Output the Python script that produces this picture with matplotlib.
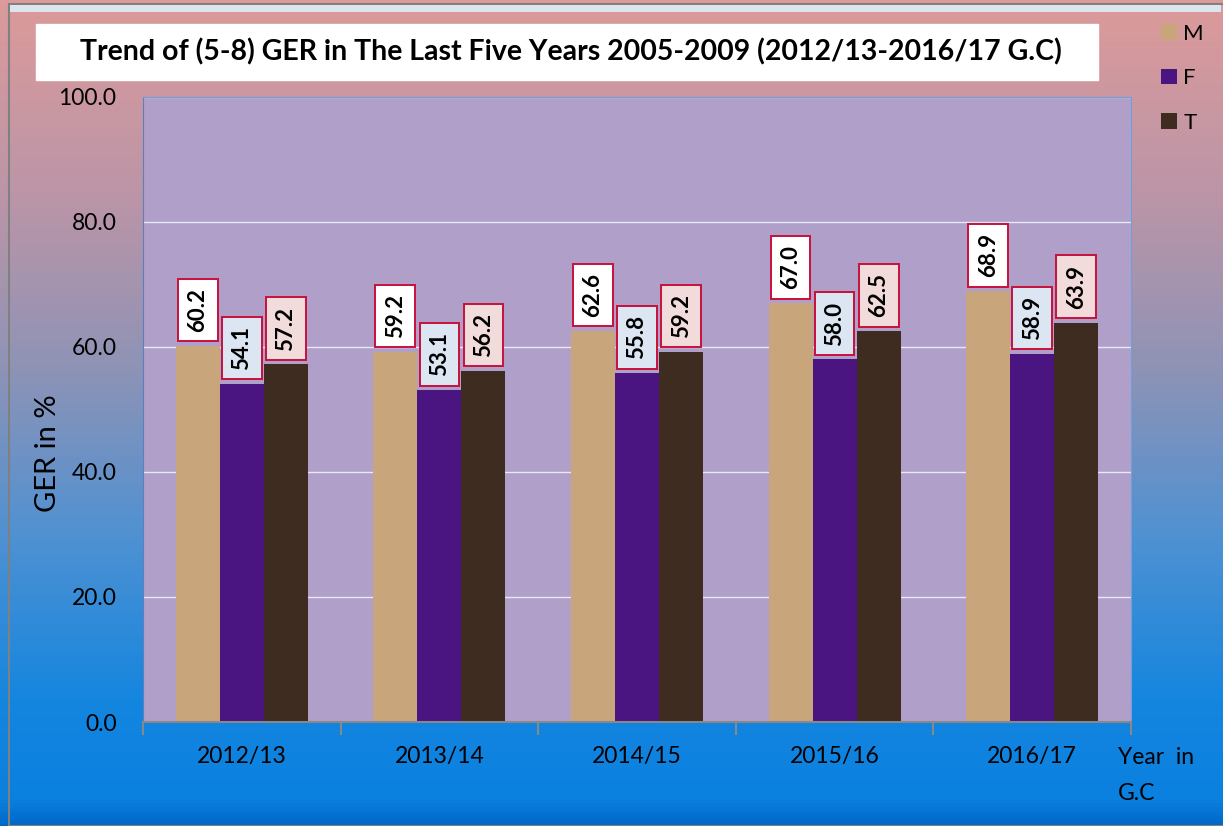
import numpy as np
import matplotlib.pyplot as plt
from matplotlib.colors import LinearSegmentedColormap
from matplotlib.patches import Rectangle

years = ['2012/13', '2013/14', '2014/15', '2015/16', '2016/17']
male = [60.2, 59.2, 62.6, 67.0, 68.9]
female = [54.1, 53.1, 55.8, 58.0, 58.9]
total = [57.2, 56.2, 59.2, 62.5, 63.9]

font = 'Lato'
plt.rcParams['font.family'] = [font, 'DejaVu Sans']

fig = plt.figure(figsize=(12.23, 8.26), dpi=100)

# background gradient (pink top -> blue bottom)
bg = fig.add_axes([0, 0, 1, 1], zorder=-10)
cmap = LinearSegmentedColormap.from_list('bg', [
    (0.0, '#dc9a9a'), (0.25, '#b995a8'), (0.45, '#8d93b6'),
    (0.65, '#4f91d2'), (0.85, '#1486df'), (0.97, '#0a80e0'), (1.0, '#0068c8')])
grad = np.linspace(0, 1, 256).reshape(-1, 1)
bg.imshow(grad, aspect='auto', cmap=cmap, extent=[0, 1, 0, 1])
bg.set_xlim(0, 1)
bg.set_ylim(0, 1)
bg.axis('off')
# frame lines on the outer edge
bg.add_patch(Rectangle((0.0075, 0.0), 0.995, 0.9955, fill=False, edgecolor='#808080', lw=1.5))
bg.add_patch(Rectangle((0.0085, 0.986), 0.99, 0.008, color='#dce4f0', lw=0))

ax = fig.add_axes([0.1169, 0.1259, 0.8079, 0.7567])
ax.set_facecolor('#b09fc8')

x = np.arange(len(years))
w = 0.223
series = [
    (male, -w, '#c9a57c', 'white', 'M'),
    (female, 0, '#4a1580', '#dce6f2', 'F'),
    (total, w, '#3e2c20', '#f2dcdb', 'T'),
]
for vals, off, col, boxcol, name in series:
    ax.bar(x + off, vals, width=w, color=col, label=name, zorder=2)
    for xi, v in zip(x + off, vals):
        ax.annotate(f'{v:.1f}', (xi, v), xytext=(0, 10), textcoords='offset points',
                    rotation=90, ha='center', va='bottom', fontsize=16, fontweight='bold',
                    bbox=dict(boxstyle='square,pad=0.42', fc=boxcol, ec='#c8103c', lw=1.4),
                    zorder=5)

ax.set_xlim(-0.5, len(years) - 0.5)
ax.set_ylim(0, 100)
ax.set_yticks(np.arange(0, 101, 20))
ax.set_yticklabels([f'{t:.1f}' for t in np.arange(0, 101, 20)], fontsize=16.5)
ax.tick_params(axis='y', length=0, pad=19)
ax.set_xticks(x)
ax.set_xticklabels(years, fontsize=16.5)
ax.tick_params(axis='x', length=0, pad=17)
ax.set_xticks(np.arange(-0.5, len(years), 1), minor=True)
ax.tick_params(axis='x', which='minor', length=9, color='#888888', width=1.5)
ax.yaxis.grid(True, color='#e4eaf6', lw=1, zorder=0)
ax.set_axisbelow(True)
ax.set_ylabel('GER in %', fontsize=21)
ax.yaxis.set_label_coords(-0.083, 0.43)

ax.spines['left'].set_color('#5b7fc0')
ax.spines['bottom'].set_color('#888888')
ax.spines['bottom'].set_linewidth(1.5)
ax.spines['top'].set_color('#6fa0dc')
ax.spines['right'].set_color('#6fa0dc')

fig.text(1118 / 1223, 1 - 757 / 826, 'Year  in', fontsize=16.5, va='center', ha='left')
fig.text(1118 / 1223, 1 - 793 / 826, 'G.C', fontsize=16.5, va='center', ha='left')

# title box
fig.patches.append(Rectangle((36 / 1223, 1 - 80 / 826), 1062 / 1223, 56 / 826,
                             transform=fig.transFigure, color='white', zorder=1))
fig.text(571 / 1223, 1 - 52 / 826,
         'Trend of (5-8) GER in The Last Five Years 2005-2009 (2012/13-2016/17 G.C)',
         fontsize=20.5, fontweight='bold', ha='center', va='center', zorder=2)

leg = fig.legend(loc='upper left', bbox_to_anchor=(1141 / 1223, 1 - 4 / 826),
                 frameon=False, fontsize=16, handlelength=0.7, handleheight=0.7,
                 handletextpad=0.3, labelspacing=1.1)

fig.savefig('out.png', dpi=100)
